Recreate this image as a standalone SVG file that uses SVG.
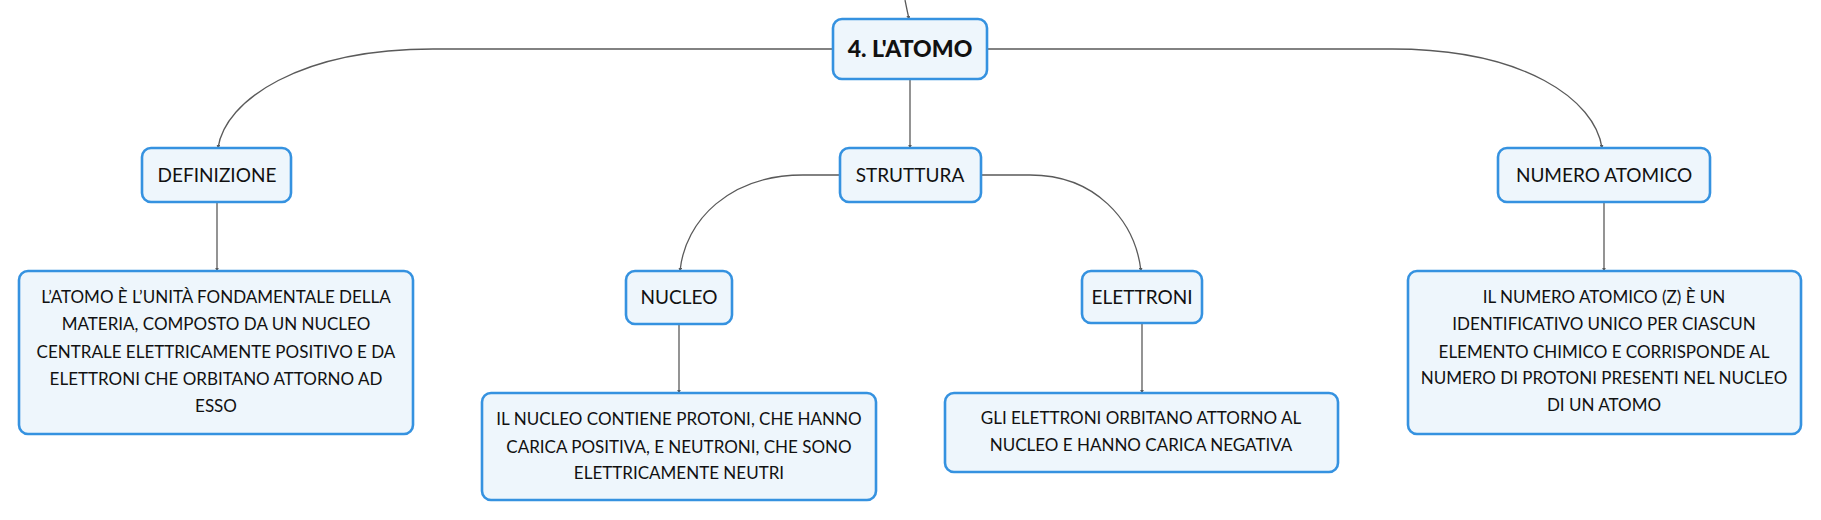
<svg xmlns="http://www.w3.org/2000/svg" width="1821" height="520" viewBox="0 0 1821 520">
<defs>
<style>
.box{fill:#eef6fc;stroke:#3592e0;stroke-width:2.6}
.t{font-family:Lato,"Liberation Sans",sans-serif;font-size:17px;fill:#111;text-anchor:middle}
.lab{font-size:19px}
.root{font-size:23px;font-weight:900}
.c{fill:none;stroke:#5a5a5a;stroke-width:1.3}
</style>
<marker id="a" viewBox="0 0 6 6" refX="5" refY="3" markerWidth="3" markerHeight="3" orient="auto">
<path d="M0,0 L6,3 L0,6 z" fill="#5a5a5a"/>
</marker>
</defs>
<rect width="1821" height="520" fill="#ffffff"/>
<g id="connectors">
<path class="c" d="M905,0 Q907,10 909,19" marker-end="url(#a)"/>
<path class="c" d="M833,49 L433,49 C300,49 225,100 218,148" marker-end="url(#a)"/>
<path class="c" d="M910,79 L910,148" marker-end="url(#a)"/>
<path class="c" d="M987,49 L1392,49 C1525,49 1595,100 1602,148" marker-end="url(#a)"/>
<path class="c" d="M217,202 L217,271" marker-end="url(#a)"/>
<path class="c" d="M840,175 L803,175 C730,175 685,220 680,271" marker-end="url(#a)"/>
<path class="c" d="M981,175 L1030,175 C1095,175 1135,220 1141,271" marker-end="url(#a)"/>
<path class="c" d="M679,324 L679,393" marker-end="url(#a)"/>
<path class="c" d="M1142,323 L1142,393" marker-end="url(#a)"/>
<path class="c" d="M1604,202 L1604,271" marker-end="url(#a)"/>
</g>
<g id="node-root">
<rect class="box" x="833" y="19" width="154" height="60" rx="9"/>
<text class="t root" x="910" y="57">4. L'ATOMO</text>
</g>
<g id="node-definizione">
<rect class="box" x="142" y="148" width="149" height="54" rx="9"/>
<text class="t lab" x="217" y="182">DEFINIZIONE</text>
</g>
<g id="node-struttura">
<rect class="box" x="840" y="148" width="141" height="54" rx="9"/>
<text class="t lab" x="910" y="182">STRUTTURA</text>
</g>
<g id="node-numero">
<rect class="box" x="1498" y="148" width="212" height="54" rx="9"/>
<text class="t lab" x="1604" y="182">NUMERO ATOMICO</text>
</g>
<g id="node-definizione-testo">
<rect class="box" x="19" y="271" width="394" height="163" rx="9"/>
<text class="t" x="216" y="303">L’ATOMO È L’UNITÀ FONDAMENTALE DELLA</text>
<text class="t" x="216" y="330">MATERIA, COMPOSTO DA UN NUCLEO</text>
<text class="t" x="216" y="358">CENTRALE ELETTRICAMENTE POSITIVO E DA</text>
<text class="t" x="216" y="385">ELETTRONI CHE ORBITANO ATTORNO AD</text>
<text class="t" x="216" y="412">ESSO</text>
</g>
<g id="node-nucleo">
<rect class="box" x="626" y="271" width="106" height="53" rx="9"/>
<text class="t lab" x="679" y="304">NUCLEO</text>
</g>
<g id="node-elettroni">
<rect class="box" x="1082" y="271" width="120" height="52" rx="9"/>
<text class="t lab" x="1142" y="304">ELETTRONI</text>
</g>
<g id="node-nucleo-testo">
<rect class="box" x="482" y="393" width="394" height="107" rx="9"/>
<text class="t" x="679" y="425">IL NUCLEO CONTIENE PROTONI, CHE HANNO</text>
<text class="t" x="679" y="453">CARICA POSITIVA, E NEUTRONI, CHE SONO</text>
<text class="t" x="679" y="479">ELETTRICAMENTE NEUTRI</text>
</g>
<g id="node-elettroni-testo">
<rect class="box" x="945" y="393" width="393" height="79" rx="9"/>
<text class="t" x="1141" y="424">GLI ELETTRONI ORBITANO ATTORNO AL</text>
<text class="t" x="1141" y="451">NUCLEO E HANNO CARICA NEGATIVA</text>
</g>
<g id="node-numero-testo">
<rect class="box" x="1408" y="271" width="393" height="163" rx="9"/>
<text class="t" x="1604" y="303">IL NUMERO ATOMICO (Z) È UN</text>
<text class="t" x="1604" y="330">IDENTIFICATIVO UNICO PER CIASCUN</text>
<text class="t" x="1604" y="358">ELEMENTO CHIMICO E CORRISPONDE AL</text>
<text class="t" x="1604" y="384">NUMERO DI PROTONI PRESENTI NEL NUCLEO</text>
<text class="t" x="1604" y="411">DI UN ATOMO</text>
</g>
</svg>
